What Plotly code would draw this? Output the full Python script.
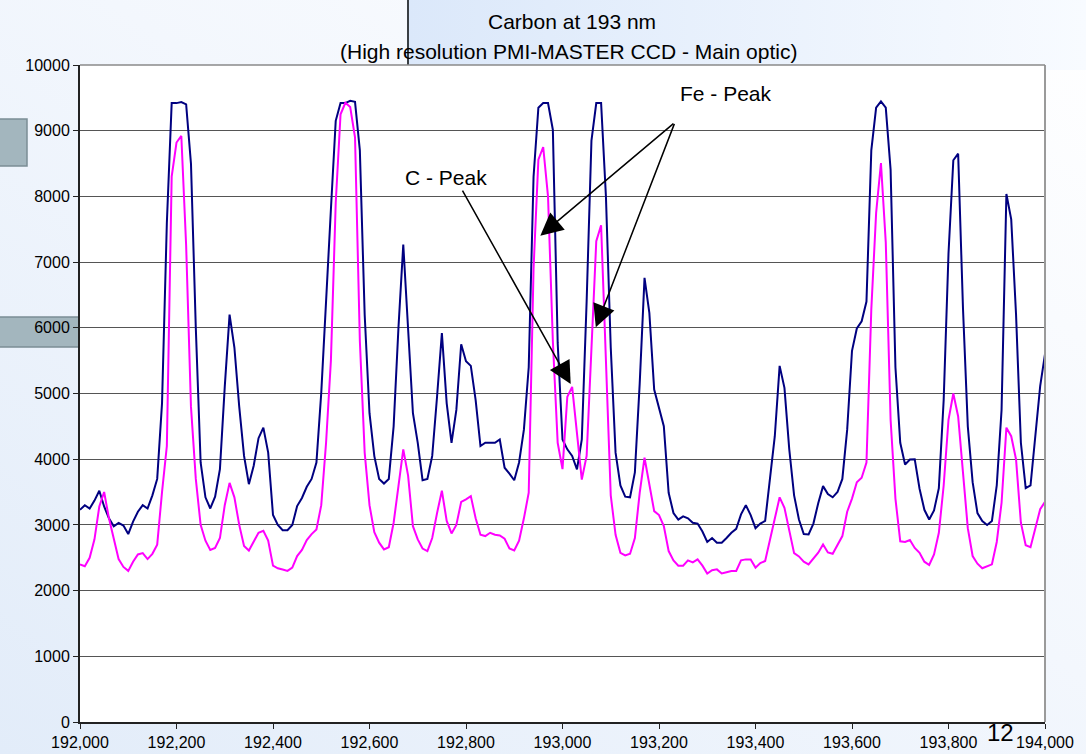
import base64
import plotly.graph_objects as go

# ---------------- data ----------------
wavelength_pm = list(range(192000, 194011, 10))

intensity_navy = [
    3230, 3300, 3250, 3370, 3520, 3280, 3100, 2980, 3030, 2990,
    2860, 3050, 3200, 3300, 3250, 3450, 3700, 4850, 7600, 9420,
    9420, 9435, 9400, 8500, 6000, 3950, 3420, 3250, 3430, 3850,
    5100, 6200, 5700, 4800, 4050, 3620, 3900, 4320, 4480, 4100,
    3150, 3000, 2920, 2920, 3000, 3286, 3410, 3580, 3700, 3950,
    5010, 6500, 7800, 9150, 9421, 9421, 9455, 9440, 8700, 6200,
    4700, 4047, 3700, 3630, 3700, 4500, 6000, 7266, 6000, 4700,
    4250, 3680, 3700, 4050, 4950, 5920, 4850, 4250, 4750, 5750,
    5492, 5420, 4900, 4200, 4250, 4250, 4250, 4300, 3870, 3780,
    3680, 3950, 4450, 5400, 8300, 9350, 9421, 9421, 9015, 5770,
    4300, 4150, 4050, 3844, 4300, 6400, 8850, 9421, 9421, 8000,
    5700, 4100, 3600, 3430, 3420, 3800, 5150, 6760, 6227, 5061,
    4800, 4503, 3489, 3180, 3080, 3130, 3100, 3033, 3020, 2900,
    2740, 2800, 2728, 2728, 2800, 2880, 2940, 3160, 3300, 3150,
    2950, 3020, 3060, 3700, 4350, 5420, 5086, 4150, 3450, 3083,
    2860, 2855, 3020, 3330, 3590, 3470, 3420, 3500, 3700, 4450,
    5650, 5990, 6100, 6400, 8700, 9350, 9446, 9350, 8407, 5400,
    4250, 3920, 3996, 4000, 3550, 3230, 3083, 3220, 3560, 4900,
    7130, 8550, 8650, 6300, 4500, 3650, 3180, 3060, 3000, 3060,
    3600, 4750, 8036, 7650, 6200, 4250, 3560, 3600, 4400, 5112,
    5600, 5000,
]

intensity_magenta = [
    2400, 2370, 2500, 2780, 3280, 3500, 3100, 2800, 2480, 2360,
    2300, 2440, 2550, 2570, 2480, 2560, 2700, 3500, 4200, 8300,
    8820, 8920, 7250, 4800, 3700, 3000, 2760, 2620, 2650, 2800,
    3300, 3640, 3420, 3000, 2680, 2610, 2740, 2880, 2910, 2760,
    2380, 2340, 2320, 2300, 2350, 2526, 2620, 2770, 2860, 2931,
    3300, 4250, 5500, 7900, 9250, 9425, 9360, 8900, 5800, 4100,
    3300, 2890, 2730, 2627, 2660, 3033, 3590, 4150, 3750, 2980,
    2779, 2640, 2600, 2800, 3180, 3520, 3060, 2870, 3000, 3350,
    3388, 3438, 3100, 2850, 2830, 2880, 2850, 2840, 2790, 2640,
    2610, 2760, 3100, 3489, 6900, 8559, 8752, 8000, 5800, 4250,
    3850, 4950, 5100, 4400, 3690, 4050, 5700, 7317, 7560, 5517,
    3450, 2850, 2576, 2536, 2560, 2800, 3489, 4022, 3641, 3210,
    3150, 2982, 2602, 2460, 2380, 2380, 2460, 2430, 2475, 2380,
    2260, 2310, 2323, 2260, 2280, 2298, 2298, 2460, 2475, 2475,
    2350, 2420, 2450, 2780, 3130, 3420, 3260, 2900, 2570, 2520,
    2440, 2399, 2480, 2576, 2703, 2580, 2560, 2690, 2830, 3200,
    3400, 3650, 3717, 3950, 6278, 7750, 8508, 7300, 4600, 3400,
    2750, 2740, 2770, 2650, 2576, 2440, 2390, 2550, 2880, 3600,
    4600, 5000, 4650, 3800, 2950, 2526, 2410, 2340, 2374, 2400,
    2740, 3337, 4480, 4350, 3996, 3033, 2690, 2660, 2950, 3240,
    3350, 3200,
]

x_ticks = list(range(192000, 194001, 200))
y_ticks = list(range(0, 10001, 1000))

title_line1 = "Carbon at 193 nm"
title_line2 = "(High resolution PMI-MASTER CCD - Main optic)"
slide_number = "12"

# annotation anchors (data coordinates)
fe_label = (193339, 9573)
fe_tail = (193233, 9127)
fe_tips = [(192954, 7402), (193069, 6007)]
c_label = (192759, 8295)
c_tail = (192791, 8112)
c_tip = (193017, 5144)

# ---------------- layout geometry ----------------
W, H = 1086, 754
ML, MR, MT, MB = 80, 41, 65, 32
PW, PH = W - ML - MR, H - MT - MB
FONT = "Liberation Sans, Arial, sans-serif"

# decorative slide background (gradient, title box, grey tabs)
svg = f'''<svg xmlns="http://www.w3.org/2000/svg" width="{W}" height="{H}" viewBox="0 0 {W} {H}" preserveAspectRatio="none">
<defs>
<linearGradient id="bg" x1="0" y1="1" x2="1" y2="0">
<stop offset="0" stop-color="#e2ecf9"/><stop offset="0.55" stop-color="#f3f7fd"/><stop offset="1" stop-color="#ffffff"/>
</linearGradient>
<linearGradient id="tb" x1="0" y1="0" x2="1" y2="0">
<stop offset="0" stop-color="#dbe8fa"/><stop offset="1" stop-color="#f8fbff"/>
</linearGradient>
</defs>
<rect x="0" y="0" width="{W}" height="{H}" fill="url(#bg)"/>
<rect x="408" y="0" width="{W-408}" height="70" fill="url(#tb)"/>
<line x1="408" y1="0" x2="408" y2="70" stroke="#3a3f44" stroke-width="2"/>
<rect x="-2" y="119" width="29" height="47" fill="#a3b6be" stroke="#7b8d95" stroke-width="1.5"/>
<rect x="-2" y="317" width="84" height="30" fill="#a3b6be" stroke="#7b8d95" stroke-width="1.5"/>
<rect x="{ML}" y="{MT}" width="{PW}" height="{PH}" fill="#ffffff"/>
</svg>'''
svg_uri = "data:image/svg+xml;base64," + base64.b64encode(svg.encode()).decode()

fig = go.Figure()
fig.add_trace(go.Scatter(x=wavelength_pm, y=intensity_navy, mode="lines",
                         line=dict(color="#000080", width=2), name="navy",
                         hoverinfo="skip"))
fig.add_trace(go.Scatter(x=wavelength_pm, y=intensity_magenta, mode="lines",
                         line=dict(color="#ff00ff", width=2), name="magenta",
                         hoverinfo="skip"))

annotations = [
    dict(text=title_line1, xref="paper", yref="paper",
         x=(572 - ML) / PW, y=1 + (MT - 21) / PH, xanchor="center", yanchor="middle",
         showarrow=False, font=dict(size=21, color="black", family=FONT)),
    dict(text=title_line2, xref="paper", yref="paper",
         x=(568 - ML) / PW, y=1 + (MT - 51) / PH, xanchor="center", yanchor="middle",
         showarrow=False, font=dict(size=21, color="black", family=FONT)),
    dict(text="Fe - Peak", x=fe_label[0], y=fe_label[1], xref="x", yref="y",
         showarrow=False, font=dict(size=21, color="black", family=FONT)),
    dict(text="C - Peak", x=c_label[0], y=c_label[1], xref="x", yref="y",
         showarrow=False, font=dict(size=21, color="black", family=FONT)),
    dict(text=slide_number, xref="paper", yref="paper", x=(1000 - ML) / PW,
         y=-(748 - (MT + PH)) / PH, xanchor="center", yanchor="bottom", showarrow=False,
         font=dict(size=24, color="black", family=FONT)),
]
for tip in fe_tips:
    annotations.append(dict(text="", x=tip[0], y=tip[1], ax=fe_tail[0], ay=fe_tail[1],
                            xref="x", yref="y", axref="x", ayref="y", showarrow=True,
                            arrowhead=2, arrowsize=3, arrowwidth=1.5, arrowcolor="black",
                            standoff=0))
annotations.append(dict(text="", x=c_tip[0], y=c_tip[1], ax=c_tail[0], ay=c_tail[1],
                        xref="x", yref="y", axref="x", ayref="y", showarrow=True,
                        arrowhead=2, arrowsize=3, arrowwidth=1.5, arrowcolor="black",
                        standoff=0))

fig.update_layout(
    width=W, height=H,
    margin=dict(l=ML, r=MR, t=MT, b=MB, pad=0, autoexpand=False),
    paper_bgcolor="#f3f7fd",
    plot_bgcolor="rgba(0,0,0,0)",
    showlegend=False,
    font=dict(family=FONT, color="black"),
    annotations=annotations,
    images=[dict(source=svg_uri, xref="paper", yref="paper",
                 x=-ML / PW, y=1 + MT / PH, sizex=W / PW, sizey=H / PH,
                 xanchor="left", yanchor="top", sizing="stretch", layer="below")],
    shapes=[dict(type="line", xref="paper", yref="paper", x0=1, x1=1, y0=0, y1=1,
                 line=dict(color="#9a9a9a", width=2), layer="above"),
            dict(type="line", xref="paper", yref="paper", x0=0, x1=1, y0=1, y1=1,
                 line=dict(color="#8a8a8a", width=1.5), layer="above")],
)
fig.update_xaxes(range=[192000, 194000], tickvals=x_ticks, tickformat=",d",
                 automargin=False,
                 showgrid=False, zeroline=False, showline=True, linecolor="#222222",
                 linewidth=2, ticks="outside", ticklen=5, tickcolor="#222222",
                 tickfont=dict(size=16, family=FONT, color="black"))
fig.update_yaxes(range=[0, 10000], tickvals=y_ticks, tickformat="d",
                 automargin=False,
                 showgrid=True, gridcolor="#555555", gridwidth=1, zeroline=False,
                 showline=True, linecolor="#222222", linewidth=2, ticks="outside",
                 ticklen=5, tickcolor="#222222",
                 tickfont=dict(size=16, family=FONT, color="black"))

fig.write_html("out.html", config={"displayModeBar": False},
               post_script="document.body.style.margin='0';document.body.style.padding='0';")
